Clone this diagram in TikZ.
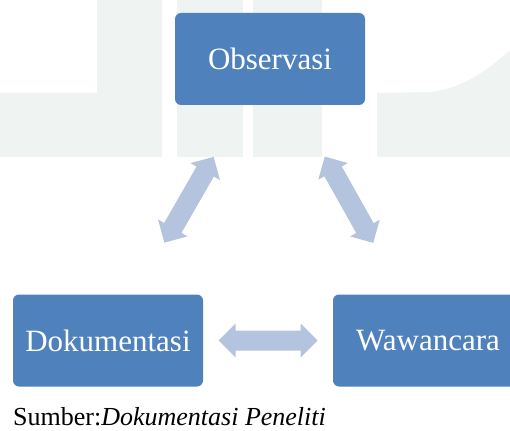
\documentclass[tikz,border=0pt]{standalone}
\usepackage{fontspec}
\setmainfont{Liberation Serif}
\usetikzlibrary{calc}
\definecolor{boxblue}{HTML}{4F81BD}
\definecolor{arrblue}{HTML}{B4C4DF}
\definecolor{wmark}{HTML}{EFF3F2}
\tikzset{
  box/.style={rectangle, rounded corners=6pt, fill=boxblue, text=white,
    minimum width=190pt, minimum height=92pt, inner sep=0pt,
    font=\fontsize{31}{36}\selectfont},
  caption/.style={anchor=base west, inner sep=0pt, font=\fontsize{26}{30}\selectfont},
  dblarr/.pic={
    \fill[arrblue] (-49.5,0) -- (-32.5,17) -- (-32.5,10) -- (32.5,10) -- (32.5,17)
      -- (49.5,0) -- (32.5,-17) -- (32.5,-10) -- (-32.5,-10) -- (-32.5,-17) -- cycle;
  }
}
\begin{document}
\begin{tikzpicture}[x=1pt,y=-1pt]
\useasboundingbox (0,0) rectangle (510,430);
\clip (0,0) rectangle (510,430);
% faint watermark
\fill[wmark] (97,0) -- (162,0) -- (162,157) -- (0,157) -- (0,93) -- (97,93) -- cycle;
\fill[wmark] (177,0) rectangle (243,157);
\fill[wmark] (253,0) rectangle (322,157);
\fill[wmark] (377,93) -- (430,92) .. controls (465,88) and (490,68) .. (510,50) -- (510,157) -- (377,157) -- cycle;
% boxes
\node[box] (obs) at (270,59) {Observasi};
\node[box] (dok) at (108,340.5) {Dokumentasi};
\node[box] (waw) at (428,340.5) {Wawancara};
% double arrows
\path let \p1=($(obs.center)-(dok.center)$), \n1={atan2(\y1,\x1)} in
  pic[rotate=\n1] at ($(dok.center)!0.5!(obs.center)$) {dblarr};
\path let \p1=($(waw.center)-(obs.center)$), \n1={atan2(\y1,\x1)} in
  pic[rotate=\n1] at ($(obs.center)!0.5!(waw.center)$) {dblarr};
\path let \p1=($(waw.center)-(dok.center)$), \n1={atan2(\y1,\x1)} in
  pic[rotate=\n1] at ($(dok.center)!0.5!(waw.center)$) {dblarr};
% caption
\node[caption] (cap) at (13,425) {Sumber:\textit{Dokumentasi Peneliti}};
\end{tikzpicture}
\end{document}
